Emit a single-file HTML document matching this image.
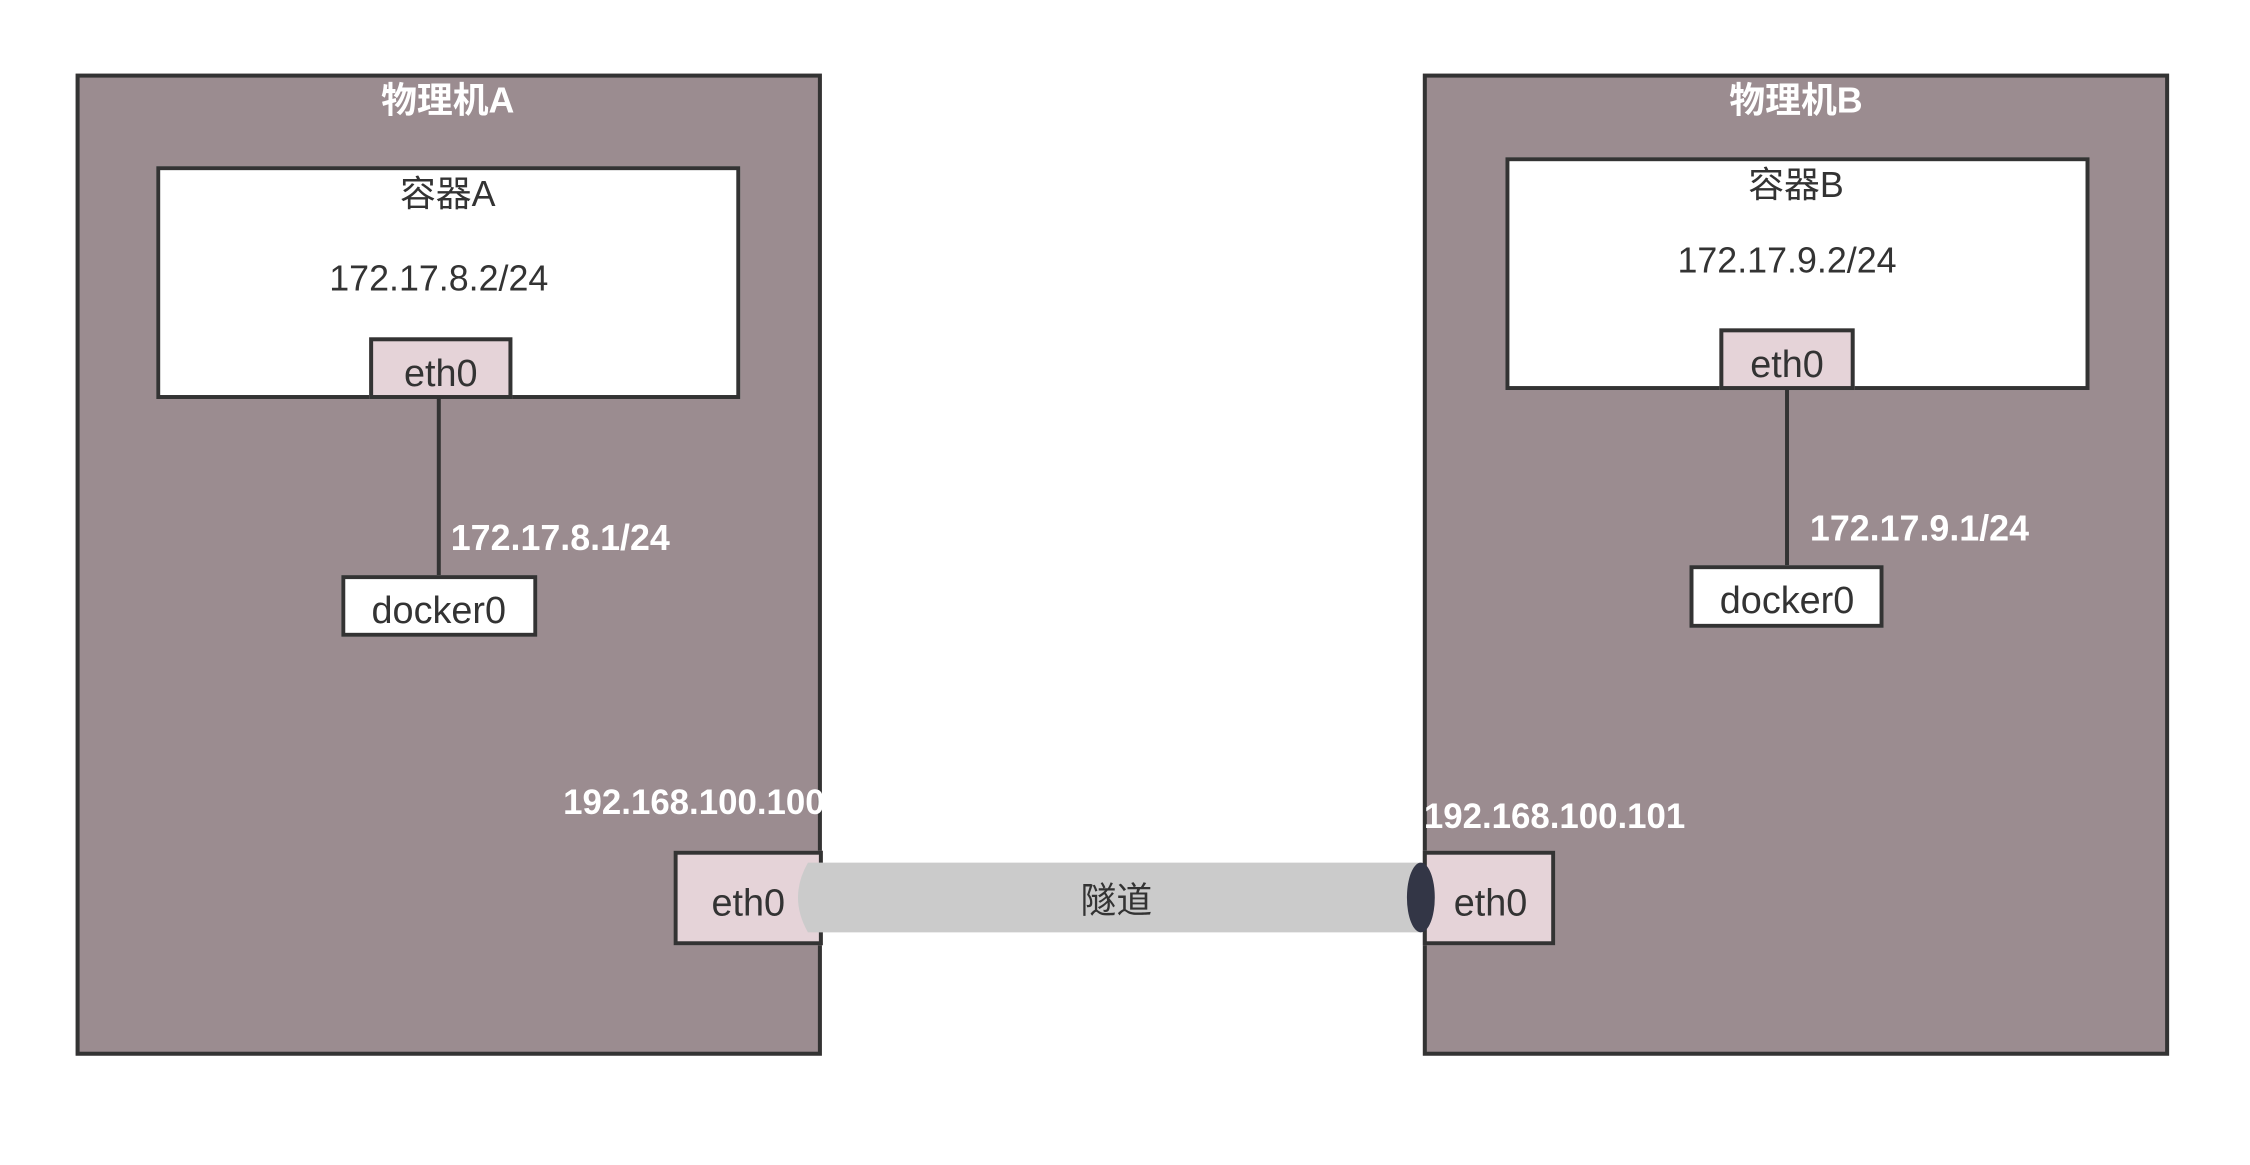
<!DOCTYPE html>
<html><head><meta charset="utf-8"><style>
body{margin:0;width:2250px;height:1165px;background:#fff;position:relative;overflow:hidden;font-family:"Liberation Sans","Noto Sans CJK SC",sans-serif;}
#wrap{position:absolute;left:0;top:0;width:2262px;height:1171px;transform:scale(0.995);transform-origin:0 0;}
.b{position:absolute;box-sizing:border-box;border:4px solid #333;}
.host{background:#9b8c90;}
.w{background:#fff;}
.p{background:#e5d3d8;}
.t{position:absolute;white-space:nowrap;transform:translateX(-50%);line-height:1;}
.l{position:absolute;white-space:nowrap;line-height:1;}
.ln{position:absolute;width:4px;background:#333;}
</style></head><body><div id="wrap">
<div class="b host" style="left:76px;top:74px;width:750px;height:987px"></div>
<div class="b host" style="left:1430px;top:74px;width:750px;height:987px"></div>

<div class="t" style="left:450px;top:83px;font-size:36px;font-weight:bold;color:#fff">物理机A</div>
<div class="t" style="left:1805px;top:83px;font-size:36px;font-weight:bold;color:#fff">物理机B</div>

<div class="b w" style="left:157px;top:167px;width:587px;height:234px"></div>
<div class="b w" style="left:1513px;top:158px;width:587px;height:234px"></div>

<div class="t" style="left:450px;top:177px;font-size:36px;color:#333">容器A</div>
<div class="t" style="left:1805px;top:168px;font-size:36px;color:#333">容器B</div>
<div class="t" style="left:441px;top:262px;font-size:36px;color:#333">172.17.8.2/24</div>
<div class="t" style="left:1796px;top:244px;font-size:36px;color:#333">172.17.9.2/24</div>

<div class="b p" style="left:371px;top:339px;width:144px;height:62px"></div>
<div class="t" style="left:443px;top:357px;font-size:38px;color:#333">eth0</div>
<div class="b p" style="left:1728px;top:330px;width:136px;height:62px"></div>
<div class="t" style="left:1796px;top:348px;font-size:38px;color:#333">eth0</div>

<div class="ln" style="left:439px;top:400px;height:180px"></div>
<div class="ln" style="left:1794px;top:391px;height:180px"></div>

<div class="b w" style="left:343px;top:578px;width:197px;height:62px"></div>
<div class="t" style="left:441px;top:595px;font-size:38px;color:#333">docker0</div>
<div class="b w" style="left:1698px;top:568px;width:195px;height:63px"></div>
<div class="t" style="left:1796px;top:585px;font-size:38px;color:#333">docker0</div>

<div class="l" style="left:453px;top:523px;font-size:36px;color:#fff;font-weight:bold">172.17.8.1/24</div>
<div class="l" style="left:1819px;top:513px;font-size:36px;color:#fff;font-weight:bold">172.17.9.1/24</div>

<div class="l" style="left:566px;top:789px;font-size:35px;color:#fff;font-weight:bold">192.168.100.100</div>
<div class="l" style="left:1431px;top:803px;font-size:35px;color:#fff;font-weight:bold">192.168.100.101</div>

<div class="b p" style="left:677px;top:855px;width:150px;height:95px"></div>
<div class="t" style="left:752px;top:889px;font-size:38px;color:#333">eth0</div>
<div class="b p" style="left:1430px;top:855px;width:133px;height:95px"></div>
<div class="t" style="left:1498px;top:889px;font-size:38px;color:#333">eth0</div>

<svg style="position:absolute;left:0;top:0" width="2262" height="1171">
<path d="M812 867 L1428 867 L1428 937 L812 937 Q792 902 812 867 Z" fill="#cbcbcb"/>
<ellipse cx="1428" cy="902" rx="14" ry="35" fill="#333646"/>
</svg>
<div class="t" style="left:1122px;top:887px;font-size:36px;color:#333">隧道</div>
</div></body></html>
